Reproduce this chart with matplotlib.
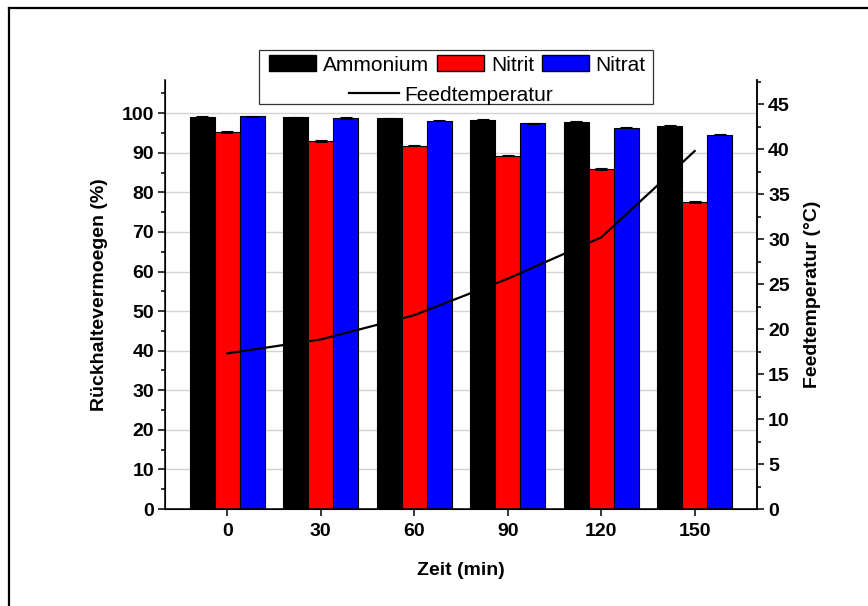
import matplotlib
matplotlib.use("Agg")
import matplotlib.pyplot as plt
import numpy as np
from matplotlib.patches import Patch, Rectangle
from matplotlib.lines import Line2D
from matplotlib.ticker import MultipleLocator

# ---- data ----
zeit = [0, 30, 60, 90, 120, 150]
ammonium = [99.15, 99.0, 98.7, 98.4, 97.9, 96.8]
nitrit = [95.25, 93.05, 91.8, 89.3, 85.85, 77.5]
nitrat = [99.2, 98.8, 98.1, 97.5, 96.35, 94.6]
err_ammonium = [0.15, 0.15, 0.15, 0.15, 0.15, 0.15]
err_nitrit = [0.2, 0.2, 0.2, 0.2, 0.2, 0.2]
err_nitrat = [0.15, 0.15, 0.15, 0.15, 0.15, 0.15]
feedtemp = [17.3, 18.85, 21.55, 25.6, 30.2, 39.8]

plt.rcParams['font.family'] = ['Liberation Sans', 'DejaVu Sans']

W, H = 868, 606
fig = plt.figure(figsize=(W / 100, H / 100), dpi=100)
ax = fig.add_axes([165 / W, 1 - 509 / H, (757 - 165) / W, (509 - 80) / H])

x = np.array(zeit, dtype=float)
bw = 8.0
ekw = dict(ecolor='black', elinewidth=0.8, capsize=4, capthick=0.8)
ax.bar(x - bw, ammonium, bw, color='black', edgecolor='black', linewidth=0.8,
       yerr=err_ammonium, error_kw=ekw, zorder=2)
ax.bar(x, nitrit, bw, color='#ff0000', edgecolor='black', linewidth=0.8,
       yerr=err_nitrit, error_kw=ekw, zorder=2)
ax.bar(x + bw, nitrat, bw, color='#0000ff', edgecolor='black', linewidth=0.8,
       yerr=err_nitrat, error_kw=ekw, zorder=2)

ax.set_xlim(-20, 170)
ax.set_ylim(0, 108.4)
ax.set_xticks(zeit)
ax.set_xticklabels([str(z) for z in zeit])
ax.yaxis.set_major_locator(MultipleLocator(10))
ax.yaxis.set_minor_locator(MultipleLocator(5))
ax.set_yticks(np.arange(0, 101, 10))
ax.grid(axis='y', which='major', color='#d3d3d3', linewidth=1.0)
ax.set_axisbelow(True)
ax.spines['top'].set_visible(False)
for s in ['left', 'bottom', 'right']:
    ax.spines[s].set_linewidth(1.1)
ax.tick_params(axis='both', which='major', direction='out', length=5, width=1.1,
               labelsize=14, pad=3)
ax.tick_params(axis='x', which='major', pad=5)
ax.tick_params(axis='y', which='minor', direction='out', length=3, width=1.1)
for lab in ax.get_xticklabels() + ax.get_yticklabels():
    lab.set_fontweight('bold')
ax.set_xlabel('Zeit (min)', fontsize=14, fontweight='bold', labelpad=16)
ax.set_ylabel('Rückhaltevermoegen (%)', fontsize=14, fontweight='bold', labelpad=10)

ax2 = ax.twinx()
ax2.plot(x, feedtemp, color='black', linewidth=1.6, zorder=5)
ax2.set_ylim(0, 47.7)
ax2.yaxis.set_major_locator(MultipleLocator(5))
ax2.yaxis.set_minor_locator(MultipleLocator(2.5))
ax2.set_yticks(np.arange(0, 46, 5))
ax2.spines['top'].set_visible(False)
ax2.spines['right'].set_linewidth(1.1)
ax2.tick_params(axis='y', which='major', direction='out', length=5, width=1.1,
                labelsize=14, pad=3)
ax2.tick_params(axis='y', which='minor', direction='out', length=3, width=1.1)
for lab in ax2.get_yticklabels():
    lab.set_fontweight('bold')
ax2.set_ylabel('Feedtemperatur (°C)', fontsize=14, fontweight='bold', labelpad=10)

# ---- legend ----
fig.add_artist(Rectangle((259 / W, 1 - 104 / H), (653 - 259) / W, (104 - 50) / H,
                         transform=fig.transFigure, facecolor='white',
                         edgecolor='#333333', linewidth=0.9, zorder=10))
h1 = [Patch(facecolor='black', edgecolor='black'),
      Patch(facecolor='#ff0000', edgecolor='black'),
      Patch(facecolor='#0000ff', edgecolor='black')]
leg1 = fig.legend(h1, ['Ammonium', 'Nitrit', 'Nitrat'], ncol=3, frameon=False,
                  loc='center', bbox_to_anchor=(457.5 / W, 1 - 65 / H),
                  fontsize=15, handlelength=2.25, handleheight=0.8,
                  handletextpad=0.33, columnspacing=0.37, borderpad=0)
leg1.set_zorder(11)
h2 = [Line2D([0], [0], color='black', linewidth=1.6)]
leg2 = fig.legend(h2, ['Feedtemperatur'], frameon=False, loc='center',
                  bbox_to_anchor=(451 / W, 1 - 95 / H), fontsize=15,
                  handlelength=2.4, handletextpad=0.25, borderpad=0)
leg2.set_zorder(11)

# ---- outer frame (top and left lines) ----
fig.add_artist(Line2D([8.5 / W, 8.5 / W], [0, 1 - 7.5 / H], transform=fig.transFigure,
                      color='black', linewidth=1.6))
fig.add_artist(Line2D([8.5 / W, 1], [1 - 7.5 / H, 1 - 7.5 / H], transform=fig.transFigure,
                      color='black', linewidth=1.6))

fig.savefig('out.png', dpi=100)
